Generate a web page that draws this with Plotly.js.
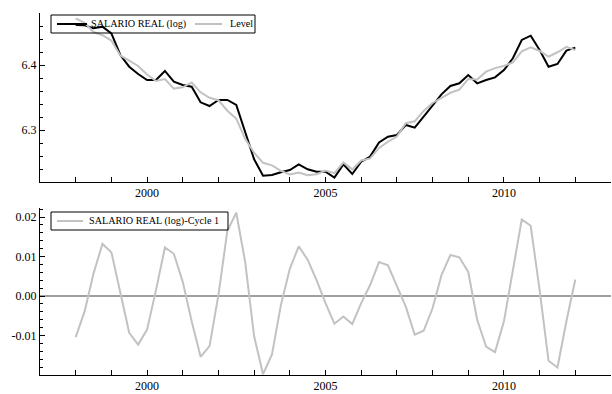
<!DOCTYPE html>
<html>
<head>
<meta charset="utf-8">
<script src="https://cdn.plot.ly/plotly-3.0.1.min.js"></script>
<style>html,body{margin:0;padding:0;background:#fff;}#chart{width:612px;height:394px;}</style>
</head>
<body>
<div id="chart"></div>
<script>
// Quarterly observations, 1998Q1 .. 2012Q1
const firstYear = 1998;
const periodsPerYear = 4;

const salarioReal = [
  6.4615, 6.4610, 6.4564, 6.4590, 6.4487, 6.4154, 6.3974, 6.3862,
  6.3769, 6.3769, 6.3908, 6.3744, 6.3692, 6.3667, 6.3426, 6.3369,
  6.3462, 6.3462, 6.3385, 6.2949, 6.2549, 6.2297, 6.2308, 6.2349,
  6.2385, 6.2472, 6.2395, 6.2359, 6.2359, 6.2267, 6.2472, 6.2323,
  6.2513, 6.2590, 6.2810, 6.2897, 6.2923, 6.3077, 6.3036, 6.3205,
  6.3385, 6.3549, 6.3677, 6.3718, 6.3846, 6.3718, 6.3769, 6.3810,
  6.3923, 6.4103, 6.4385, 6.4451, 6.4231, 6.3974, 6.4015, 6.4221,
  6.4267
];

const level = [
  6.4719, 6.4649, 6.4507, 6.4458, 6.4376, 6.4147, 6.4067, 6.3985,
  6.3854, 6.3754, 6.3785, 6.3637, 6.3656, 6.3731, 6.3580, 6.3496,
  6.3459, 6.3297, 6.3174, 6.2863, 6.2651, 6.2495, 6.2456, 6.2372,
  6.2316, 6.2346, 6.2303, 6.2319, 6.2377, 6.2337, 6.2500, 6.2394,
  6.2531, 6.2562, 6.2724, 6.2819, 6.2900, 6.3104, 6.3134, 6.3293,
  6.3416, 6.3496, 6.3573, 6.3620, 6.3785, 6.3778, 6.3897, 6.3952,
  6.3987, 6.4038, 6.4210, 6.4273, 6.4216, 6.4130, 6.4196, 6.4280,
  6.4228
];

const cycle = [
  -0.0104, -0.0039, 0.0057, 0.0132, 0.0111, 0.0007, -0.0093, -0.0123,
  -0.0085, 0.0015, 0.0123, 0.0107, 0.0036, -0.0064, -0.0154, -0.0127,
  0.0003, 0.0165, 0.0211, 0.0086, -0.0102, -0.0198, -0.0148, -0.0023,
  0.0069, 0.0126, 0.0092, 0.0040, -0.0018, -0.0070, -0.0052, -0.0071,
  -0.0018, 0.0028, 0.0086, 0.0078, 0.0023, -0.0027, -0.0098, -0.0088,
  -0.0031, 0.0053, 0.0104, 0.0098, 0.0061, -0.0060, -0.0128, -0.0142,
  -0.0064, 0.0065, 0.0194, 0.0178, 0.0015, -0.0164, -0.0181, -0.0064,
  0.0042
];

const xTickVals = [2000, 2005, 2010];
const xTickText = ["2000", "2005", "2010"];
const yTopTickVals = [6.3, 6.4];
const yTopTickText = ["6.3", "6.4"];
const yBotTickVals = [-0.01, 0.0, 0.01, 0.02];
const yBotTickText = ["-0.01", "0.00", "0.01", "0.02"];

const names = ["SALARIO REAL (log)", "Level", "SALARIO REAL (log)-Cycle 1"];

const t = salarioReal.map((_, i) => firstYear + i / periodsPerYear);

const FONT = '"Liberation Serif", "Times New Roman", serif';
const GRAY = "#c2c2c2";
const BLACK = "#000000";

const traces = [
  {x: t, y: salarioReal, name: names[0], type: "scatter", mode: "lines",
   line: {color: BLACK, width: 2}, xaxis: "x", yaxis: "y"},
  {x: t, y: level, name: names[1], type: "scatter", mode: "lines",
   line: {color: GRAY, width: 2}, xaxis: "x", yaxis: "y"},
  {x: t, y: cycle, name: names[2], type: "scatter", mode: "lines",
   line: {color: GRAY, width: 2}, xaxis: "x2", yaxis: "y2"}
];

// --- figure geometry (pixels)
const W = 612, H = 394, ML = 40, MR = 1, MT = 13, MB = 19;
const PW = W - ML - MR, PH = H - MT - MB;
const px = v => (v - ML) / PW;          // pixel x -> paper x
const py = v => 1 - (v - MT) / PH;      // pixel y -> paper y

const topPanelBottomPx = 182, bottomPanelTopPx = 208;

const legendDefs = [
  {box: [51, 15, 255, 33], items: [
    {color: BLACK, x0: 57, x1: 87, tx: 89, label: names[0]},
    {color: GRAY, x0: 195, x1: 222, tx: 228, label: names[1]}
  ]},
  {box: [51, 212, 228, 230], items: [
    {color: GRAY, x0: 57, x1: 83, tx: 87, label: names[2]}
  ]}
];

const shapes = [];
const annotations = [];
legendDefs.forEach(L => {
  const [bx0, by0, bx1, by1] = L.box;
  const cy = (by0 + by1) / 2;
  shapes.push({type: "rect", xref: "paper", yref: "paper",
    x0: px(bx0), x1: px(bx1), y0: py(by0), y1: py(by1),
    line: {color: BLACK, width: 1}, fillcolor: "rgba(0,0,0,0)", layer: "above"});
  L.items.forEach(it => {
    shapes.push({type: "line", xref: "paper", yref: "paper",
      x0: px(it.x0), x1: px(it.x1), y0: py(cy), y1: py(cy),
      line: {color: it.color, width: 2}, layer: "above"});
    annotations.push({xref: "paper", yref: "paper", x: px(it.tx), y: py(cy),
      xanchor: "left", yanchor: "middle", showarrow: false, text: it.label,
      font: {family: FONT, size: 10.2, color: BLACK}});
  });
});

const xAxisBase = {
  range: [1997, 2013], showgrid: false, zeroline: false,
  showline: true, linecolor: BLACK, linewidth: 1,
  ticks: "inside", ticklen: 5, tickcolor: BLACK, tickwidth: 1,
  tickmode: "array", tickvals: xTickVals, ticktext: xTickText,
  minor: {dtick: 1, tick0: 1997, ticks: "inside", ticklen: 5, tickcolor: BLACK, tickwidth: 1, showgrid: false},
  tickfont: {family: FONT, size: 12, color: BLACK}
};

const layout = {
  width: W, height: H,
  margin: {l: ML, r: MR, t: MT, b: MB},
  paper_bgcolor: "#fff", plot_bgcolor: "#fff",
  font: {family: FONT, size: 12, color: BLACK},
  showlegend: false,
  xaxis: Object.assign({}, xAxisBase, {anchor: "y", domain: [0, 1]}),
  xaxis2: Object.assign({}, xAxisBase, {anchor: "y2", domain: [0, 1]}),
  yaxis: {
    domain: [py(topPanelBottomPx), 1], anchor: "x", range: [6.22, 6.48],
    showgrid: false, zeroline: false, showline: true, linecolor: BLACK, linewidth: 1,
    ticks: "inside", ticklen: 5, tickcolor: BLACK,
    tickmode: "array", tickvals: yTopTickVals, ticktext: yTopTickText,
    minor: {dtick: 0.02, tick0: 6.2, ticks: "inside", ticklen: 3, tickcolor: BLACK, showgrid: false},
    tickfont: {family: FONT, size: 12, color: BLACK}
  },
  yaxis2: {
    domain: [0, py(bottomPanelTopPx)], anchor: "x2", range: [-0.02, 0.0223],
    showgrid: false, zeroline: true, zerolinecolor: "#a0a0a0", zerolinewidth: 1.5,
    showline: true, linecolor: BLACK, linewidth: 1,
    ticks: "inside", ticklen: 5, tickcolor: BLACK,
    tickmode: "array", tickvals: yBotTickVals, ticktext: yBotTickText,
    minor: {dtick: 0.002, tick0: 0, ticks: "inside", ticklen: 3, tickcolor: BLACK, showgrid: false},
    tickfont: {family: FONT, size: 12, color: BLACK}
  },
  shapes: shapes,
  annotations: annotations
};

Plotly.newPlot("chart", traces, layout, {staticPlot: true, displayModeBar: false});
</script>
</body>
</html>
